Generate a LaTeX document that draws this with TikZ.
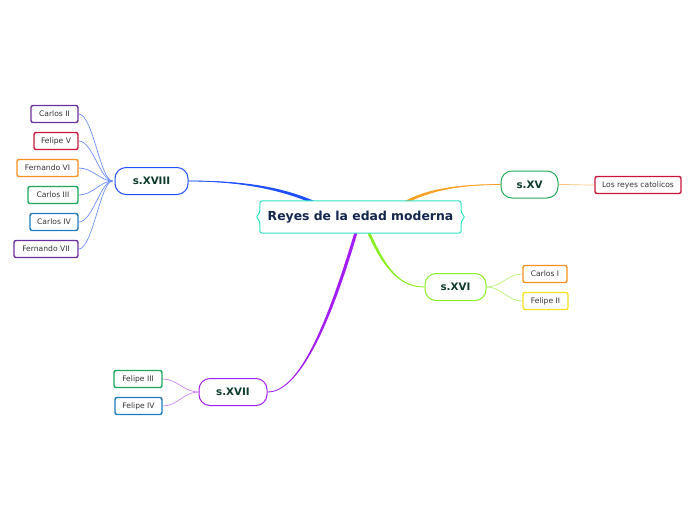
\documentclass[tikz,border=0pt]{standalone}
\usepackage{fontspec}
\setmainfont{DejaVu Sans}
\usetikzlibrary{calc}
\pgfdeclarelayer{background}
\pgfsetlayers{background,main}
\definecolor{cyanb}{HTML}{2DE3C2}
\definecolor{navy}{HTML}{13264F}
\definecolor{dgreen}{HTML}{0D3B2A}
\definecolor{blueb}{HTML}{1F4FFF}
\definecolor{bluel}{HTML}{7090FF}
\definecolor{greenb}{HTML}{23A85A}
\definecolor{orangeb}{HTML}{F7A021}
\definecolor{orangel}{HTML}{FBC680}
\definecolor{limeb}{HTML}{88EE22}
\definecolor{limel}{HTML}{B8F27E}
\definecolor{purpb}{HTML}{A31DF5}
\definecolor{purpl}{HTML}{CE85F5}
\definecolor{cpurple}{HTML}{6B2F9E}
\definecolor{cred}{HTML}{C8173A}
\definecolor{corange}{HTML}{F7901E}
\definecolor{cgreen}{HTML}{1AA85A}
\definecolor{cblue}{HTML}{1C7BBF}
\definecolor{cyellow}{HTML}{F5E221}
\definecolor{ctext}{HTML}{333333}
\tikzset{
  branch/.style={draw=#1, line width=1pt, fill=white, rounded corners=11pt,
    minimum height=27pt, inner sep=0pt, font=\fontsize{10.3}{12}\selectfont\bfseries, text=dgreen},
  leaf/.style={draw=#1, line width=1.4pt, fill=white, rounded corners=2pt,
    minimum height=17pt, inner sep=0pt, font=\fontsize{7.6}{9}\selectfont, text=ctext},
  twig/.style={draw=#1, line width=0.7pt},
}
\begin{document}
\begin{tikzpicture}[x=1pt,y=-1pt]
\useasboundingbox (0,0) rectangle (696,520);
% central
\node[inner sep=0pt, minimum width=201pt, minimum height=32pt, font=\fontsize{12.4}{14}\selectfont\bfseries, text=navy] (c) at (360.5,217) {Reyes de la edad moderna};
\draw[cyanb, line width=1pt, fill=white, rounded corners=2.5pt]
  (c.north west) -- (c.north east) -- ($(c.east)+(0,-4)$) -- ($(c.east)+(4,0)$) -- ($(c.east)+(0,4)$)
  -- (c.south east) -- (c.south west) -- ($(c.west)+(0,4)$) -- ($(c.west)+(-4,0)$) -- ($(c.west)+(0,-4)$) -- cycle;
\node[inner sep=0pt, font=\fontsize{12.4}{14}\selectfont\bfseries, text=navy] at (c.center) {Reyes de la edad moderna};
% branches
\node[branch=blueb, minimum width=73pt] (b18) at (151.5,181) {s.XVIII};
\node[branch=greenb, minimum width=57pt] (b15) at (529.5,184.5) {s.XV};
\node[branch=limeb, minimum width=61pt] (b16) at (455.5,287) {s.XVI};
\node[branch=purpb, minimum width=68pt] (b17) at (233,392) {s.XVII};
% leaves
\node[leaf=cred, minimum width=86pt] (lrc) at (638,185) {Los reyes catolicos};
\node[leaf=corange, minimum width=44pt] (ci) at (545,274) {Carlos I};
\node[leaf=cyellow, minimum width=45pt] (fii) at (545.5,301) {Felipe II};
\node[leaf=cgreen, minimum width=48pt] (fiii) at (138,379) {Felipe III};
\node[leaf=cblue, minimum width=47pt] (fiv) at (138.5,406) {Felipe IV};
\node[leaf=cpurple, minimum width=47pt] (cii) at (54.5,114) {Carlos II};
\node[leaf=cred, minimum width=44pt] (fv) at (56,141) {Felipe V};
\node[leaf=corange, minimum width=61pt] (fvi) at (47.5,168) {Fernando VI};
\node[leaf=cgreen, minimum width=50pt] (ciii) at (53,195) {Carlos III};
\node[leaf=cblue, minimum width=48pt] (civ) at (54,222) {Carlos IV};
\node[leaf=cpurple, minimum width=64pt] (fvii) at (46,249) {Fernando VII};
% end points of main connectors (under central node)
\coordinate (e18) at (322,206);
\coordinate (e15) at (399,206);
\coordinate (e16) at (367,229);
\coordinate (e17) at (357,229);
\begin{pgfonlayer}{background}
% main tapered connectors
\fill[blueb] (b18.east) .. controls (258,180) and (296,192) .. ($(e18)+(0,-1.5)$) -- ($(e18)+(0,1.5)$) .. controls (294,195) and (258,182) .. (b18.east);
\draw[blueb, line width=0.8pt] (b18.east) .. controls (258,181) and (295,193.5) .. (e18);
\fill[orangeb] (b15.west) .. controls (450,184) and (420,191) .. ($(e15)+(0,-1.5)$) -- ($(e15)+(0,1.5)$) .. controls (421,194) and (450,185) .. (b15.west);
\draw[orangeb, line width=0.8pt] (b15.west) .. controls (450,184.5) and (420.5,192.5) .. (e15);
\fill[limeb] (b16.west) .. controls (395,287) and (382,258) .. ($(e16)+(1.5,0)$) -- ($(e16)+(-1.5,0)$) .. controls (379,259) and (395,288) .. (b16.west);
\draw[limeb, line width=0.8pt] (b16.west) .. controls (395,287.5) and (380.5,258.5) .. (e16);
\fill[purpb] (b17.east) .. controls (305,392) and (338,300) .. ($(e17)+(1.5,0)$) -- ($(e17)+(-1.5,0)$) .. controls (334,300) and (303,393) .. (b17.east);
\draw[purpb, line width=0.8pt] (b17.east) .. controls (304,392.5) and (336,300) .. (e17);
% twigs
\foreach \n in {cii,fv,fvi,ciii,civ,fvii}{
  \draw[twig=bluel] ($(b18.west)+(-2,0)$) .. controls +(-12,0) and +(14,0) .. (\n.east);
}
\draw[twig=orangel] (b15.east) .. controls +(15,0) and +(-15,0) .. (lrc.west);
\foreach \n in {ci,fii}{
  \draw[twig=limel] (b16.east) .. controls +(15,0) and +(-15,0) .. (\n.west);
}
\foreach \n in {fiii,fiv}{
  \draw[twig=purpl] (b17.west) .. controls +(-15,0) and +(15,0) .. (\n.east);
}
\end{pgfonlayer}
\end{tikzpicture}
\end{document}
